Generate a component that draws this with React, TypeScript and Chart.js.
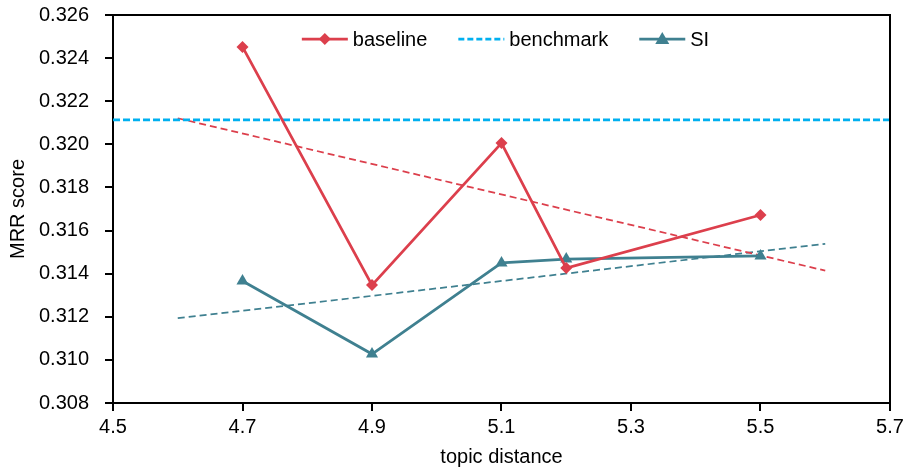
import React, { useEffect, useRef } from "react";
import { Chart, registerables } from "chart.js";

Chart.register(...registerables);

// ---- data ----
const xValues = [4.7, 4.9, 5.1, 5.2, 5.5];
const baselineValues = [0.32452, 0.31347, 0.32006, 0.31426, 0.31672];
const siValues = [0.31366, 0.31027, 0.3145, 0.31468, 0.31482];
const benchmarkValue = 0.32113;
const benchmarkX = [4.5, 5.7];
const trendX = [4.6, 5.6];
const baselineTrend = [0.32121, 0.31414];
const siTrend = [0.31194, 0.31538];
const xTicks = [4.5, 4.7, 4.9, 5.1, 5.3, 5.5, 5.7];
const yTicks = [0.308, 0.31, 0.312, 0.314, 0.316, 0.318, 0.32, 0.322, 0.324, 0.326];
const legendLabels = ["baseline", "benchmark", "SI"];

const RED = "#DC3F4C";
const TEAL = "#3F8090";
const BLUE = "#00B0F0";
const FONT = "'Liberation Sans', Arial, sans-serif";
const FS = 20;

const framePlugin = {
  id: "frame",
  afterDraw(chart: any) {
    const { ctx, chartArea } = chart;
    ctx.save();
    ctx.strokeStyle = "#000";
    ctx.lineWidth = 2;
    ctx.beginPath();
    ctx.moveTo(chartArea.left, chartArea.top);
    ctx.lineTo(chartArea.right, chartArea.top);
    ctx.lineTo(chartArea.right, chartArea.bottom);
    ctx.stroke();
    ctx.restore();
  },
};

const legendPlugin = {
  id: "customLegend",
  afterDraw(chart: any) {
    const { ctx, chartArea } = chart;
    ctx.save();
    ctx.font = `${FS}px ${FONT}`;
    const lineLen = 46;
    const textGap = 5;
    const itemGap = 31;
    const widths = legendLabels.map((l) => ctx.measureText(l).width);
    const total = widths.reduce((a, b) => a + b, 0) + 3 * (lineLen + textGap) + 2 * itemGap;
    const center = (chartArea.left + chartArea.right) / 2 + 4;
    let x = center - total / 2;
    const y = chartArea.top + 24;
    const styles = [
      { color: RED, dash: [] as number[], marker: "diamond" },
      { color: BLUE, dash: [6, 3], marker: "none" },
      { color: TEAL, dash: [] as number[], marker: "triangle" },
    ];
    legendLabels.forEach((label, i) => {
      const s = styles[i];
      ctx.strokeStyle = s.color;
      ctx.fillStyle = s.color;
      ctx.lineWidth = 2.75;
      ctx.setLineDash(s.dash);
      ctx.beginPath();
      ctx.moveTo(x, y);
      ctx.lineTo(x + lineLen, y);
      ctx.stroke();
      ctx.setLineDash([]);
      const mx = x + lineLen / 2;
      if (s.marker === "diamond") {
        ctx.beginPath();
        ctx.moveTo(mx, y - 6);
        ctx.lineTo(mx + 6, y);
        ctx.lineTo(mx, y + 6);
        ctx.lineTo(mx - 6, y);
        ctx.closePath();
        ctx.fill();
      } else if (s.marker === "triangle") {
        ctx.beginPath();
        ctx.moveTo(mx, y - 7);
        ctx.lineTo(mx + 7, y + 5);
        ctx.lineTo(mx - 7, y + 5);
        ctx.closePath();
        ctx.fill();
      }
      ctx.fillStyle = "#000";
      ctx.textAlign = "left";
      ctx.textBaseline = "middle";
      ctx.fillText(label, x + lineLen + textGap, y + 1);
      x += lineLen + textGap + widths[i] + itemGap;
    });
    ctx.restore();
  },
};

export default function App() {
  const canvasRef = useRef<HTMLCanvasElement | null>(null);

  useEffect(() => {
    if (!canvasRef.current) return;
    const pts = (xs: number[], ys: number[]) => xs.map((x, i) => ({ x, y: ys[i] }));
    const chart = new Chart(canvasRef.current, {
      type: "line",
      data: {
        datasets: [
          {
            label: "baseline",
            data: pts(xValues, baselineValues),
            borderColor: RED,
            backgroundColor: RED,
            borderWidth: 2.75,
            pointStyle: "rectRot",
            pointRadius: 6,
            pointBorderWidth: 0,
            tension: 0,
          },
          {
            label: "benchmark",
            data: pts(benchmarkX, [benchmarkValue, benchmarkValue]),
            borderColor: BLUE,
            backgroundColor: BLUE,
            borderWidth: 2.75,
            borderDash: [7, 3],
            pointRadius: 0,
          },
          {
            label: "SI",
            data: pts(xValues, siValues),
            borderColor: TEAL,
            backgroundColor: TEAL,
            borderWidth: 2.75,
            pointStyle: "triangle",
            pointRadius: 7,
            pointBorderWidth: 0,
            tension: 0,
          },
          {
            label: "baseline trend",
            data: pts(trendX, baselineTrend),
            borderColor: RED,
            borderWidth: 1.75,
            borderDash: [7, 4],
            pointRadius: 0,
          },
          {
            label: "SI trend",
            data: pts(trendX, siTrend),
            borderColor: TEAL,
            borderWidth: 1.75,
            borderDash: [7, 4],
            pointRadius: 0,
          },
        ],
      },
      options: {
        animation: false,
        responsive: true,
        maintainAspectRatio: false,
        layout: { padding: { left: 0, top: 15, right: 16, bottom: 0 } },
        plugins: {
          legend: { display: false },
          tooltip: { enabled: false },
        },
        scales: {
          x: {
            type: "linear",
            min: 4.5,
            max: 5.7,
            afterBuildTicks: (s: any) => {
              s.ticks = xTicks.map((v) => ({ value: v }));
            },
            afterFit: (s: any) => {
              s.height = 67;
              s.paddingLeft = 0;
              s.paddingRight = 0;
            },
            ticks: {
              color: "#000",
              font: { family: FONT, size: FS },
              padding: 4,
              maxRotation: 0,
              autoSkip: false,
              callback: (v: any) => Number(v).toFixed(1),
            },
            grid: {
              drawOnChartArea: false,
              drawTicks: true,
              tickLength: 8,
              color: "#000",
              lineWidth: 2,
            },
            border: { display: true, color: "#000", width: 2 },
            title: {
              display: true,
              text: "topic distance",
              color: "#000",
              font: { family: FONT, size: FS },
              padding: { top: 0, bottom: 1 },
            },
          },
          y: {
            type: "linear",
            min: 0.308,
            max: 0.326,
            afterBuildTicks: (s: any) => {
              s.ticks = yTicks.map((v) => ({ value: v }));
            },
            afterFit: (s: any) => {
              s.width = 113;
              s.paddingTop = 0;
              s.paddingBottom = 0;
            },
            ticks: {
              color: "#000",
              font: { family: FONT, size: FS },
              padding: 16,
              autoSkip: false,
              callback: (v: any) => Number(v).toFixed(3),
            },
            grid: {
              drawOnChartArea: false,
              drawTicks: true,
              tickLength: 8,
              color: "#000",
              lineWidth: 2,
            },
            border: { display: true, color: "#000", width: 2 },
            title: {
              display: true,
              text: "MRR score",
              color: "#000",
              font: { family: FONT, size: FS },
              padding: { top: 6, bottom: 0 },
            },
          },
        },
      },
      plugins: [framePlugin, legendPlugin],
    } as any);
    return () => chart.destroy();
  }, []);

  return (
    <div style={{ position: "absolute", left: 0, top: 0, width: 906, height: 470, background: "#fff" }}>
      <canvas ref={canvasRef} />
    </div>
  );
}
